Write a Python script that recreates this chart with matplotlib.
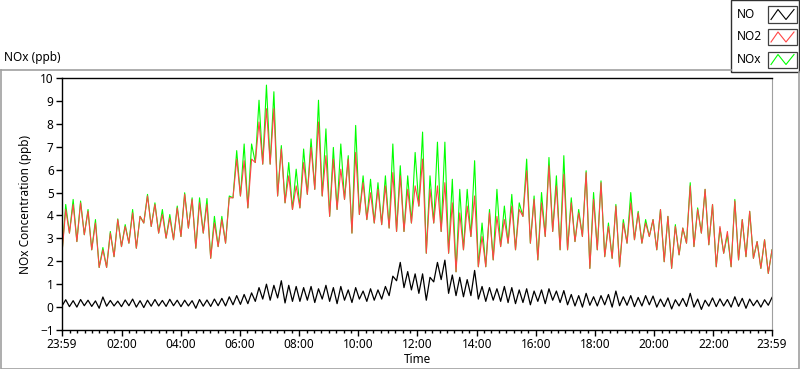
import numpy as np
import matplotlib
matplotlib.use("Agg")
import matplotlib.pyplot as plt
from matplotlib.lines import Line2D
from matplotlib.patches import Rectangle
from matplotlib.ticker import FixedLocator

plt.rcParams["font.family"] = ["Noto Sans", "DejaVu Sans"]

# 15-minute bins starting at 23:59, low / high envelope (ppb)
no2_hi = [4.26, 4.48, 4.55, 4.18, 3.67, 2.50, 3.23, 3.82, 3.52, 4.11, 3.96, 4.85, 4.48, 4.04, 3.89, 4.33,
          4.92, 4.70, 4.55, 4.48, 3.67, 3.82, 4.77, 6.46, 6.39, 6.46, 8.08, 8.66, 8.66, 6.90, 5.73, 5.29,
          6.31, 6.97, 8.08, 6.61, 6.46, 6.02, 6.46, 6.75, 5.43, 4.99, 5.14, 5.29, 5.87, 5.73, 5.14, 5.29,
          6.46, 5.14, 5.29, 5.43, 4.55, 4.11, 4.41, 4.85, 3.08, 4.11, 3.96, 3.82, 4.41, 4.26, 5.95, 4.70,
          4.55, 6.17, 5.29, 5.80, 4.55, 4.11, 5.87, 4.70, 5.43, 3.52, 4.41, 3.67, 4.55, 4.11, 3.67, 3.82,
          4.26, 3.96, 3.52, 3.45, 5.29, 4.26, 5.14, 4.48, 3.52, 3.30, 4.63, 3.82, 4.18, 2.86, 2.94, 2.50]
no2_lo = [2.35, 3.23, 2.86, 3.16, 2.50, 1.73, 1.73, 2.20, 2.64, 2.79, 2.57, 3.67, 3.52, 3.23, 3.01, 2.94,
          3.08, 3.45, 2.57, 3.23, 2.13, 2.64, 2.79, 4.77, 4.85, 4.33, 6.31, 6.24, 6.24, 4.85, 4.55, 4.26,
          4.33, 4.92, 5.14, 4.85, 3.96, 4.26, 4.70, 3.23, 4.04, 3.82, 3.67, 3.60, 3.45, 3.30, 3.30, 3.67,
          4.41, 2.35, 3.67, 3.30, 2.35, 1.54, 2.50, 3.08, 1.76, 1.76, 2.06, 2.64, 2.79, 2.50, 3.96, 2.79,
          2.06, 3.08, 3.30, 2.50, 2.50, 2.86, 3.08, 1.69, 2.50, 2.20, 2.13, 1.76, 2.79, 2.94, 2.79, 3.08,
          2.50, 1.98, 1.69, 2.28, 2.79, 2.64, 3.23, 2.72, 1.76, 2.35, 1.76, 2.06, 2.20, 2.13, 1.69, 1.47]
nox_hi = [4.48, 4.70, 4.63, 4.26, 3.82, 2.60, 3.30, 3.85, 3.60, 4.26, 3.96, 4.92, 4.55, 4.26, 4.04, 4.41,
          4.99, 4.77, 4.77, 4.74, 3.96, 3.96, 4.85, 6.83, 7.12, 7.12, 9.03, 9.69, 9.40, 7.05, 6.31, 6.02,
          6.90, 7.34, 9.03, 7.78, 6.97, 7.12, 6.61, 7.93, 5.73, 5.58, 5.43, 5.73, 7.12, 6.17, 5.73, 6.75,
          7.64, 5.73, 7.20, 7.20, 5.58, 5.14, 5.14, 6.39, 3.67, 4.26, 5.14, 4.41, 4.92, 4.55, 6.46, 4.85,
          5.00, 6.53, 5.73, 6.61, 4.77, 4.26, 5.95, 5.00, 5.51, 3.67, 4.48, 3.82, 5.00, 4.18, 3.82, 3.82,
          4.26, 3.96, 3.60, 3.45, 5.43, 4.33, 5.14, 4.48, 3.45, 3.16, 4.70, 3.82, 4.18, 2.86, 2.94, 2.50]
no_hi = [0.32, 0.28, 0.33, 0.30, 0.27, 0.44, 0.29, 0.26, 0.31, 0.35, 0.28, 0.30, 0.33, 0.29, 0.34, 0.30,
         0.30, 0.28, 0.33, 0.31, 0.35, 0.38, 0.45, 0.50, 0.55, 0.62, 0.85, 1.00, 0.95, 1.15, 0.95, 0.90,
         0.85, 0.90, 0.80, 0.95, 0.85, 0.90, 0.75, 0.85, 0.70, 0.80, 0.75, 0.90, 1.35, 1.95, 1.55, 1.45,
         1.45, 1.30, 1.95, 2.05, 1.40, 1.30, 1.20, 1.60, 0.90, 0.85, 0.80, 0.90, 0.85, 0.75, 0.80, 0.70,
         0.75, 0.80, 0.70, 0.72, 0.55, 0.50, 0.60, 0.45, 0.50, 0.55, 0.70, 0.45, 0.50, 0.42, 0.50, 0.48,
         0.35, 0.40, 0.32, 0.38, 0.60, 0.35, 0.30, 0.40, 0.36, 0.33, 0.45, 0.38, 0.35, 0.30, 0.32, 0.42]
no_lo = [0.05, 0.02, 0.00, 0.06, 0.03, -0.05, 0.04, 0.05, 0.02, 0.06, 0.00, -0.02, 0.04, 0.05, 0.03, 0.06,
         0.02, 0.05, -0.05, 0.04, 0.03, 0.06, 0.05, 0.10, 0.12, 0.15, 0.25, 0.35, 0.30, 0.40, 0.18, 0.25,
         0.25, 0.30, 0.20, 0.35, 0.25, 0.15, 0.30, 0.20, 0.35, 0.25, 0.30, 0.35, 0.50, 1.15, 0.85, 0.75,
         0.60, 0.30, 1.10, 1.20, 0.60, 0.50, 0.45, 0.50, 0.35, 0.25, 0.30, 0.25, 0.20, 0.15, 0.20, 0.10,
         0.25, 0.15, 0.30, 0.20, 0.10, 0.05, 0.00, 0.08, 0.05, 0.10, 0.00, 0.06, 0.08, 0.02, 0.05, 0.10,
         0.00, 0.02, -0.08, 0.05, 0.03, 0.00, -0.10, 0.04, 0.02, 0.05, 0.00, 0.03, -0.05, 0.06, 0.00, 0.08]

tick_labels = ["23:59", "02:00", "04:00", "06:00", "08:00", "10:00", "12:00",
               "14:00", "16:00", "18:00", "20:00", "22:00", "23:59"]
tick_pos = [0, 121, 241, 361, 481, 601, 721, 841, 961, 1081, 1201, 1321, 1440]

W, H = 800, 369
FRAME = "#a0a0a0"


def fx(px):
    return px / W


def fy(py):
    return 1 - py / H


def zig(lo, hi):
    return np.column_stack([lo, hi]).ravel()


fig = plt.figure(figsize=(8, 3.69), dpi=100)
ax = fig.add_axes([fx(62), fy(330), 710 / W, 252 / H])

t = np.linspace(0, 1440, 2 * len(no2_hi))
ax.plot(t, zig(no2_lo, nox_hi), color="#00ff00", lw=0.8)
ax.plot(t, zig(no2_lo, no2_hi), color="#ff4545", lw=0.8)
ax.plot(t, zig(no_lo, no_hi), color="black", lw=0.9)

ax.set_xlim(0, 1440)
ax.set_ylim(-1, 10)
ax.set_yticks(range(-1, 11))
ax.xaxis.set_major_locator(FixedLocator(tick_pos))
ax.set_xticklabels(tick_labels)
ax.xaxis.set_minor_locator(FixedLocator([m for m in range(16, 1440, 15) if m not in tick_pos]))
ax.tick_params(axis="both", which="major", direction="out", length=4, width=1,
               labelsize=8.5, pad=2, colors="black")
ax.tick_params(axis="x", which="minor", direction="out", length=2.5, width=1)
ax.set_xlabel("Time", fontsize=8.5)
ax.xaxis.set_label_coords(0.5, -0.093)
ax.set_ylabel("NOx Concentration (ppb)", fontsize=8.5, labelpad=6)
for side in ("left", "top", "bottom"):
    ax.spines[side].set_color("black")
    ax.spines[side].set_linewidth(1)
ax.spines["right"].set_color(FRAME)

# outer panel frame (LabVIEW style) and caption
fig.add_artist(Line2D([fx(0.5), fx(0.5), fx(798.5), fx(798.5)],
                      [fy(69.5), fy(368.5), fy(368.5), fy(72)],
                      transform=fig.transFigure, color=FRAME, lw=1.2))
fig.add_artist(Line2D([fx(0.5), fx(731)], [fy(69.5), fy(69.5)],
                      transform=fig.transFigure, color=FRAME, lw=1.2))
fig.text(fx(4), fy(58), "NOx (ppb)", fontsize=8.5, va="center", ha="left")

# legend box
fig.add_artist(Rectangle((fx(730.5), fy(72)), fx(68), 72 / H, transform=fig.transFigure,
                         facecolor="white", edgecolor="#303030", lw=1))
legend = [("NO", "black"), ("NO2", "#ff4545"), ("NOx", "#00ff00")]
for i, (name, col) in enumerate(legend):
    cy = 14.5 + 22.5 * i
    fig.text(fx(737), fy(cy), name, fontsize=8.5, va="center", ha="left")
    fig.add_artist(Rectangle((fx(768), fy(cy + 8)), fx(29), 16 / H, transform=fig.transFigure,
                             facecolor="white", edgecolor="#404040", lw=0.9))
    xs = [771, 778, 786, 794]
    ys = [cy + 5, cy - 5, cy + 5, cy - 5]
    fig.add_artist(Line2D([fx(v) for v in xs], [fy(v) for v in ys],
                          transform=fig.transFigure, color=col, lw=0.8))

fig.savefig("out.png", dpi=100)
